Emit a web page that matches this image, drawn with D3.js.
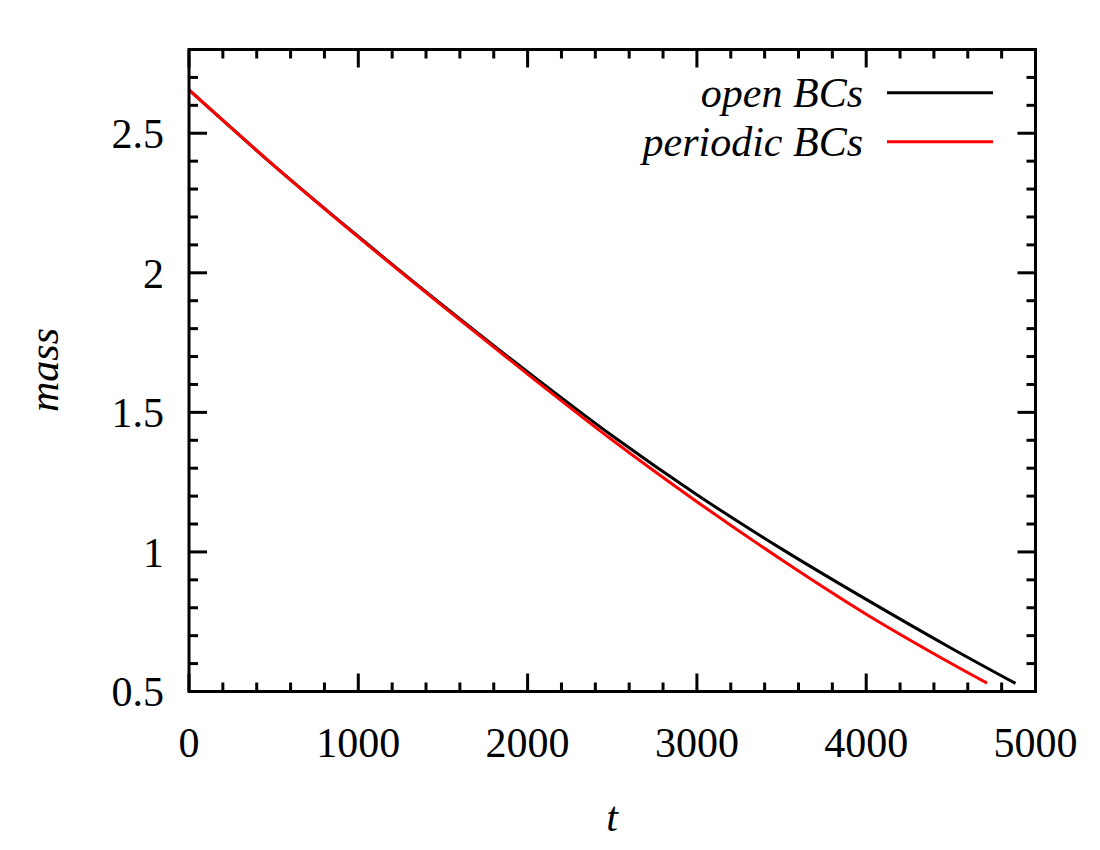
<!DOCTYPE html>
<html>
<head>
<title>mass vs t</title>
<script src="https://cdnjs.cloudflare.com/ajax/libs/d3/7.8.5/d3.min.js"></script>
<style>
body { margin: 0; background: #fff; }
text { font-family: "Liberation Serif", "DejaVu Serif", serif; fill: #000; }
</style>
</head>
<body>
<script>
// values
var tOpen = [0, 500, 1000, 1500, 2000, 2500, 3000, 3500, 4000, 4500, 4882];
var massOpen = [2.655, 2.385, 2.130, 1.883, 1.645, 1.416, 1.205, 1.011, 0.830, 0.656, 0.529];

var tPeriodic = [0, 500, 1000, 1500, 2000, 2500, 3000, 3500, 4000, 4500, 4714];
var massPeriodic = [2.655, 2.385, 2.128, 1.880, 1.637, 1.401, 1.180, 0.972, 0.777, 0.601, 0.530];

var xTicks = [0, 1000, 2000, 3000, 4000, 5000];
var yTicks = [0.5, 1, 1.5, 2, 2.5];
var seriesNames = ["open BCs", "periodic BCs"];
var seriesColors = ["#000000", "#ff0000"];

var width = 1100, height = 850;
var plotL = 189, plotR = 1035.5, plotT = 49.5, plotB = 691.5;
var fontSize = 42;

var svg = d3.select("body").append("svg")
    .attr("width", width)
    .attr("height", height);

var x = d3.scaleLinear().domain([0, 5000]).range([plotL, plotR]);
var y = d3.scaleLinear().domain([0.5, 2.8]).range([plotB, plotT]);

// minor ticks
var xMinor = d3.range(0, 5001, 200).filter(function(v) { return v % 1000 !== 0; });
var yMinor = d3.range(5, 29, 1).map(function(v) { return v / 10; })
    .filter(function(v) { return Math.abs(v * 2 - Math.round(v * 2)) > 1e-6; });

function tickLines(g, axis, vals, len) {
    vals.forEach(function(v) {
        if (axis === "x") {
            g.append("line").attr("x1", x(v)).attr("x2", x(v)).attr("y1", plotB).attr("y2", plotB - len);
            g.append("line").attr("x1", x(v)).attr("x2", x(v)).attr("y1", plotT).attr("y2", plotT + len);
        } else {
            g.append("line").attr("y1", y(v)).attr("y2", y(v)).attr("x1", plotL).attr("x2", plotL + len);
            g.append("line").attr("y1", y(v)).attr("y2", y(v)).attr("x1", plotR).attr("x2", plotR - len);
        }
    });
}

var ticks = svg.append("g").attr("stroke", "#000").attr("stroke-width", 3);
tickLines(ticks, "x", xTicks, 18);
tickLines(ticks, "x", xMinor, 9);
tickLines(ticks, "y", yTicks, 18);
tickLines(ticks, "y", yMinor, 9);

// tick labels
svg.append("g").selectAll("text").data(xTicks).enter().append("text")
    .attr("x", function(d) { return x(d); })
    .attr("y", 757)
    .attr("text-anchor", "middle")
    .attr("font-size", fontSize)
    .text(function(d) { return d; });

svg.append("g").selectAll("text").data(yTicks).enter().append("text")
    .attr("x", 164)
    .attr("y", function(d) { return y(d); })
    .attr("dy", "0.35em")
    .attr("text-anchor", "end")
    .attr("font-size", fontSize)
    .text(function(d) { return d; });

// axis titles
svg.append("text")
    .attr("x", 612).attr("y", 831)
    .attr("text-anchor", "middle")
    .attr("font-size", fontSize)
    .attr("font-style", "italic")
    .text("t");

svg.append("text")
    .attr("transform", "translate(58,370) rotate(-90)")
    .attr("text-anchor", "middle")
    .attr("font-size", fontSize)
    .attr("font-style", "italic")
    .text("mass");

// curves
var line = d3.line()
    .x(function(d) { return x(d[0]); })
    .y(function(d) { return y(d[1]); })
    .curve(d3.curveCatmullRom);

var series = [d3.zip(tOpen, massOpen), d3.zip(tPeriodic, massPeriodic)];

svg.append("g").selectAll("path").data(series).enter().append("path")
    .attr("d", line)
    .attr("fill", "none")
    .attr("stroke", function(d, i) { return seriesColors[i]; })
    .attr("stroke-width", 3);

// legend
var legend = svg.append("g");
seriesNames.forEach(function(name, i) {
    var ly = 92.7 + i * 49;
    legend.append("text")
        .attr("x", 863).attr("y", ly)
        .attr("dy", "0.35em")
        .attr("text-anchor", "end")
        .attr("font-size", fontSize)
        .attr("font-style", "italic")
        .text(name);
    legend.append("line")
        .attr("x1", 887).attr("x2", 993)
        .attr("y1", ly).attr("y2", ly)
        .attr("stroke", seriesColors[i])
        .attr("stroke-width", 3);
});

// frame
svg.append("rect")
    .attr("x", plotL).attr("y", plotT)
    .attr("width", plotR - plotL).attr("height", plotB - plotT)
    .attr("fill", "none")
    .attr("stroke", "#000")
    .attr("stroke-width", 3);
</script>
</body>
</html>
